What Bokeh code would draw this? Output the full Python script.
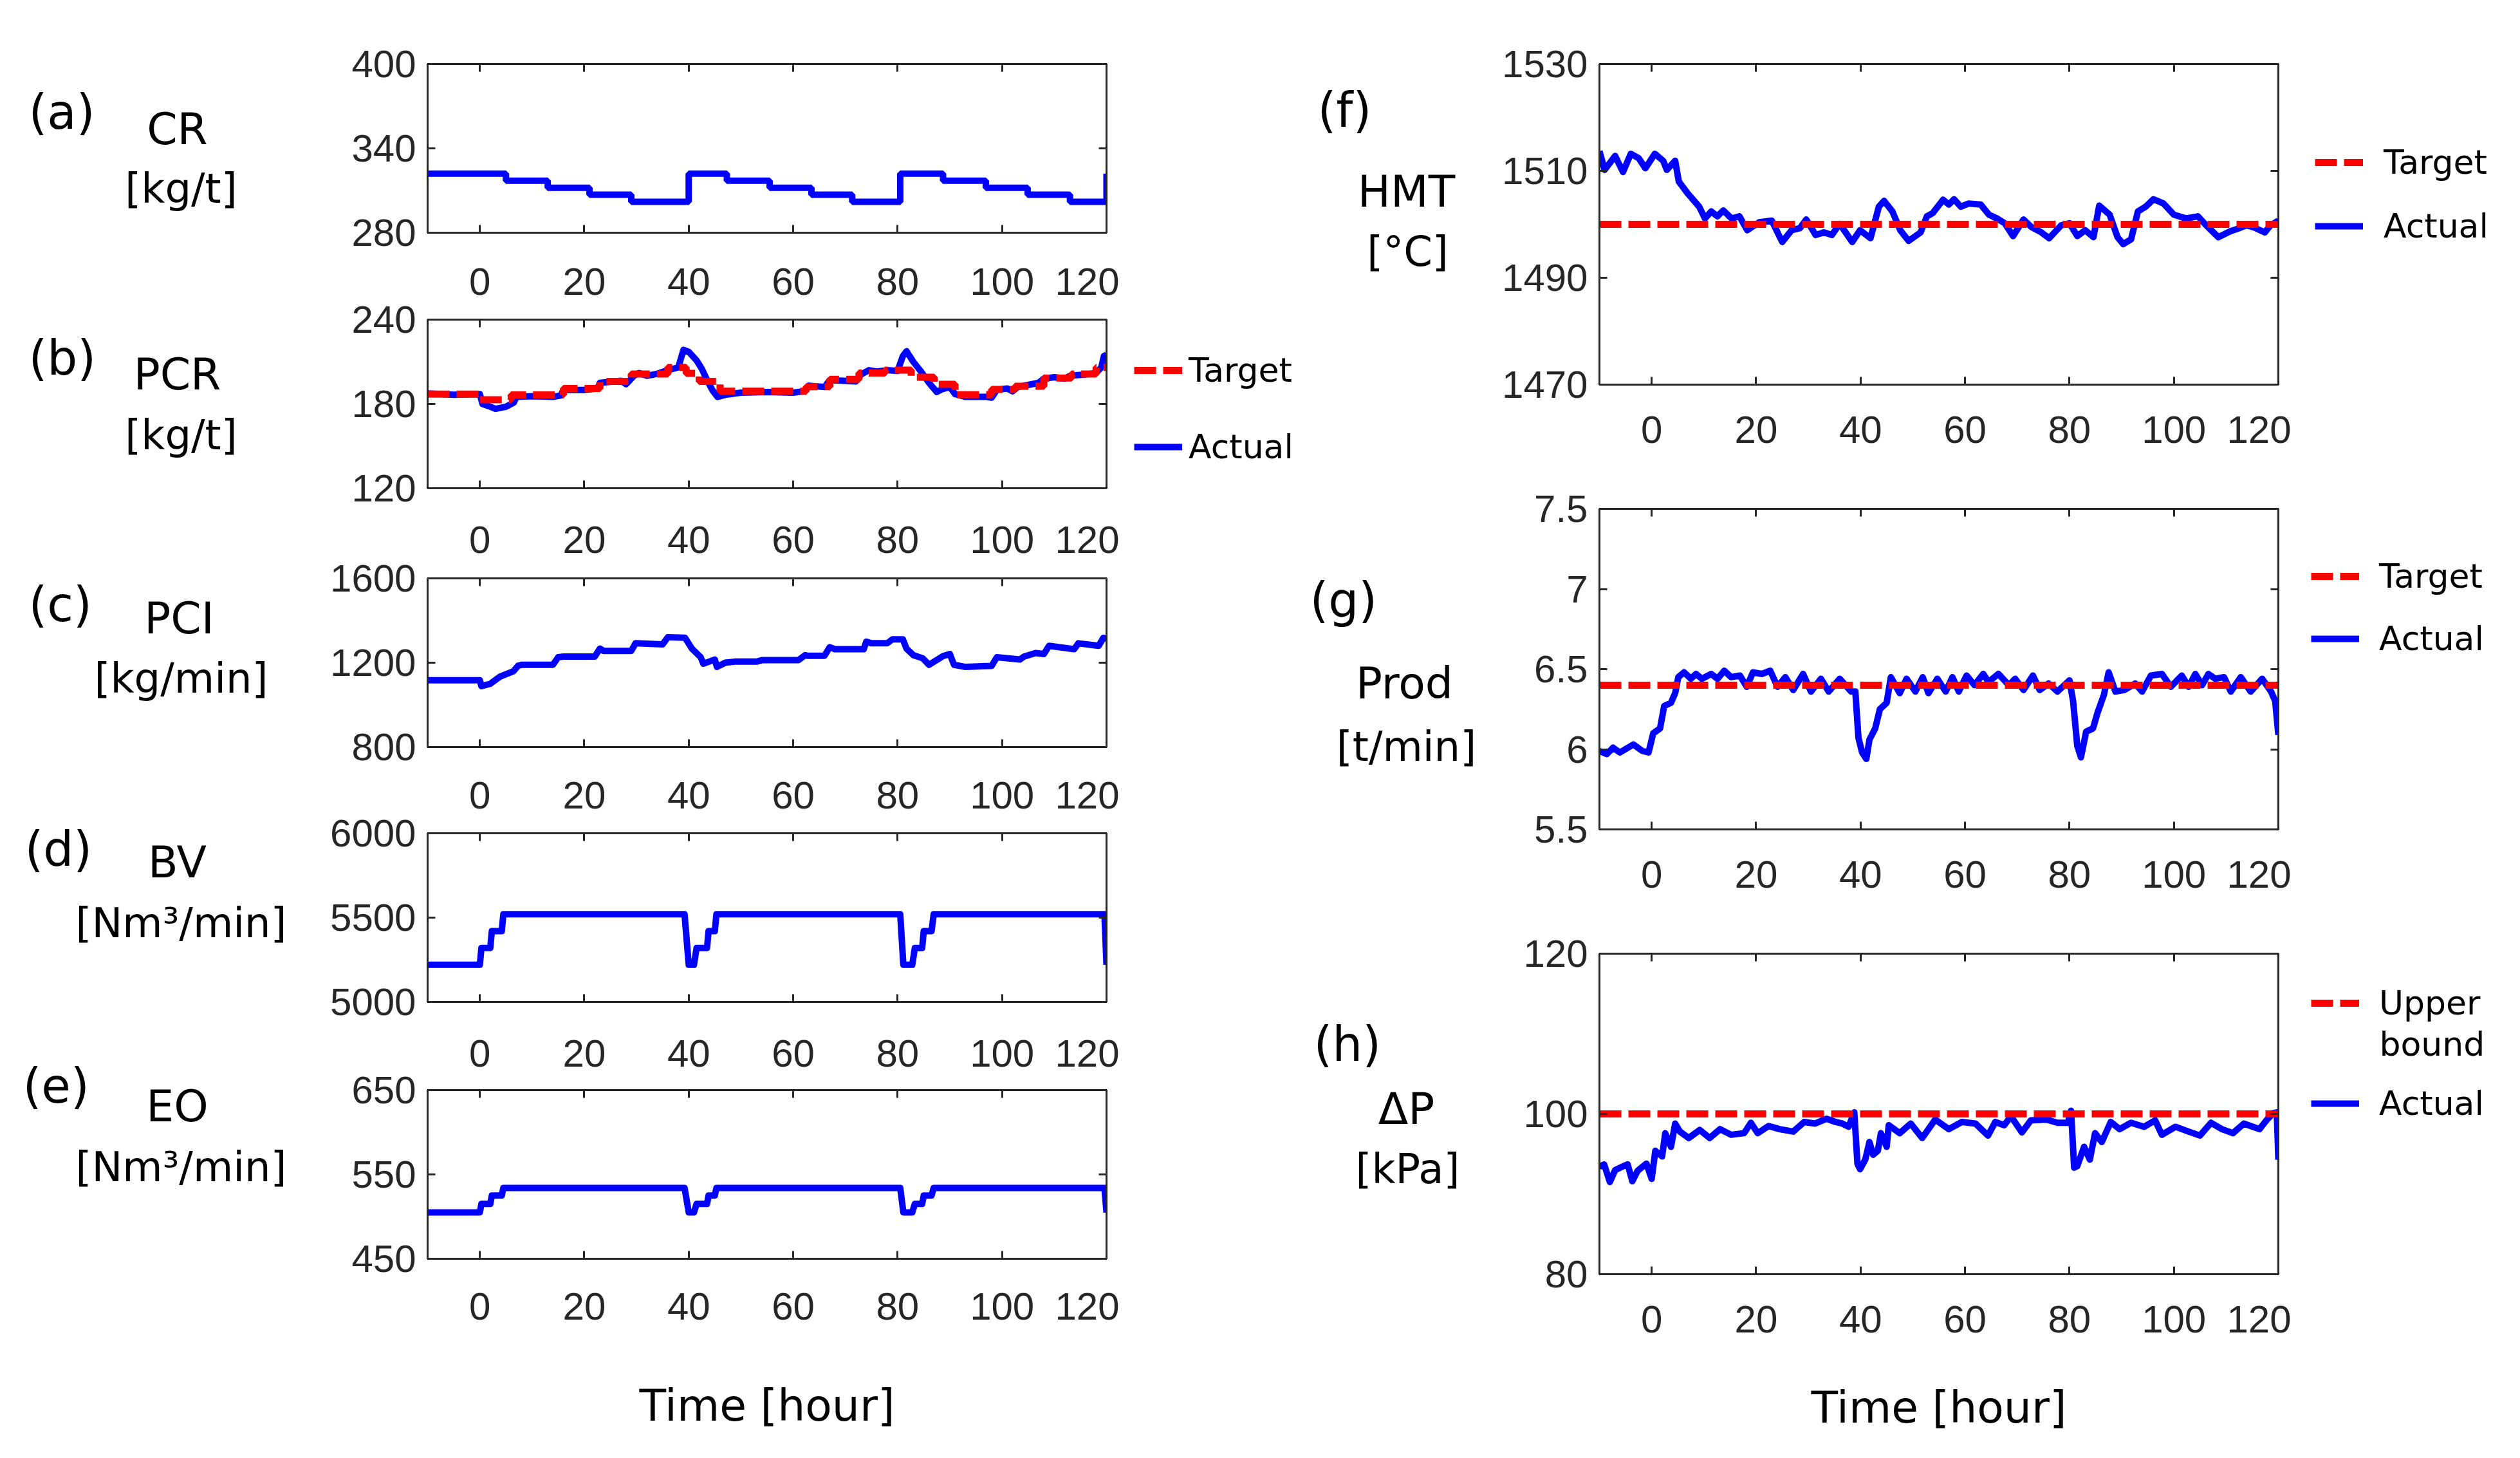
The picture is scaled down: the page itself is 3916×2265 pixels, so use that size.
from bokeh.plotting import figure
from bokeh.layouts import row, column
from bokeh.models import Range1d, LinearAxis, FixedTicker, Label, Legend, LegendItem
from bokeh.embed import file_html
from bokeh.resources import INLINE

TICK_FONT = "Liberation Sans"
TEXT_FONT = "DejaVu Sans"
INK = "#262626"
BLUE = "#0000ff"
RED = "#ff0000"
NAN = float("nan")

x_ticks = [0, 20, 40, 60, 80, 100, 120]

# (a) coke rate, step changes
cr_t = [-10, 5, 13, 21, 29, 40, 47.3, 55.5, 63.5, 71.3, 80.5, 88.7, 96.9, 104.9, 113, 120]
cr_v = [322, 317, 312, 307, 302, 322, 317, 312, 307, 302, 322, 317, 312, 307, 302, 322]

# (b) PCR target (steps) and actual
pcr_target_t = [-10, 0, 6, 16, 23, 29, 36, 39.5, 42, 46, 62.5, 67,
                72.6, 77.6, 82.6, 87, 91, 98, 102.5, 108, 113.3, 118, 120]
pcr_target_v = [187, 183, 186.4, 191, 196, 201.3, 206, 201.7, 196, 189, 192.2, 197.5,
                202, 204, 199, 194, 186.5, 190.3, 192.6, 198.4, 201.3, 206, 206]
pcr_t = [-10, -5, 0, 0.5, 2, 3, 5, 6.5, 7, 10,
         14, 15.5, 16, 20, 22.5, 23, 27, 28, 29.5, 30.5,
         32, 34, 36, 38, 39, 40, 41.5, 42.5, 43.5, 44.5,
         45.5, 47, 50, 55, 60, 62, 63, 66, 67, 72,
         73, 74.5, 76, 78, 80, 81, 81.7, 83, 84.5, 86,
         87.5, 88.5, 90, 91, 93, 97, 98, 99, 101, 102,
         103, 105, 107, 108, 110, 112, 113, 116, 118, 119,
         119.5, 120]
pcr_v = [187.5, 186.5, 187, 180, 178, 176.5, 178, 181, 185, 185.5,
         185, 186, 190, 190, 191, 195, 196.5, 194, 200, 202,
         200, 201.5, 204, 206, 218.5, 217, 211, 205, 197, 190,
         185, 186.5, 188, 188.5, 188, 189, 193, 192, 197, 196,
         201, 204, 203, 204, 203.5, 214, 217.5, 210, 203, 195,
         188.5, 190.5, 192, 187, 185, 185, 184.5, 190, 191, 189,
         192, 193.5, 195, 198, 199, 198, 200, 201, 202, 206,
         214, 215]

# (c) PCI
pci_t = [-10, 0, 0.3, 2, 3.8, 6.4, 7.3, 8, 14, 15,
         16, 22, 23, 23.7, 29, 29.8, 35, 36, 39.3, 40.6,
         42.3, 42.8, 45, 45.4, 47, 48.8, 53, 54, 61, 62.3,
         62.7, 66, 67, 68, 73.5, 74, 75, 78, 79, 81,
         81.7, 83, 84.8, 86, 88.7, 90, 90.8, 93, 98, 99,
         103.4, 104.2, 106.4, 108, 109, 113.8, 114.6, 118.5, 119.4, 120]
pci_v = [1117, 1117, 1089, 1100, 1133, 1159, 1185, 1190, 1190, 1226,
         1229, 1229, 1267, 1256, 1256, 1292, 1287, 1321, 1318, 1267,
         1226, 1195, 1215, 1180, 1200, 1205, 1205, 1212, 1212, 1236,
         1233, 1233, 1274, 1264, 1264, 1300, 1292, 1292, 1311, 1311,
         1267, 1236, 1221, 1190, 1231, 1241, 1190, 1180, 1185, 1226,
         1215, 1229, 1246, 1241, 1280, 1264, 1292, 1280, 1318, 1315]

# (d) blast volume and (e) enriched oxygen share the same switching times
bv_t = [-10, 0, 0.3, 2, 2.3, 4.2, 4.5, 39.2, 40, 41,
        41.5, 43.5, 43.8, 45, 45.3, 80.5, 81.1, 82.8, 83.3, 84.7,
        85, 86.5, 86.9, 119.6, 120]
bv_v = [5220, 5220, 5320, 5320, 5420, 5420, 5520, 5520, 5220, 5220,
        5320, 5320, 5420, 5420, 5520, 5520, 5220, 5220, 5320, 5320,
        5420, 5420, 5520, 5520, 5220]
eo_v = [505, 505, 515, 515, 525, 525, 534, 534, 505, 505,
        515, 515, 525, 525, 534, 534, 505, 505, 515, 515,
        525, 525, 534, 534, 505]

# (f) hot metal temperature
hmt_target = 1500
hmt_t = [-10, -9, -7, -5.5, -4, -2.5, -1.2, 0.6, 2.2, 2.9,
         4.5, 5.2, 6.8, 9.1, 10.2, 11.4, 12.6, 13.7, 15.3, 16.8,
         18.3, 20.6, 23, 25, 26.8, 28.4, 29.6, 31.4, 33, 34.5,
         36, 38.4, 39.9, 41.9, 43.5, 44.5, 46.1, 47.6, 49.2, 51.5,
         52.7, 53.8, 55.8, 56.9, 57.9, 59.2, 60.7, 63, 64.6, 66.1,
         67.6, 69.2, 71.2, 72.7, 74.6, 76.1, 78.4, 80, 81.5, 83,
         84.6, 85.7, 87.7, 89.2, 90.3, 91.8, 93.1, 94.6, 96.1, 98,
         100, 102.3, 104.6, 106.2, 108.5, 110.8, 112.3, 113.9, 115.4, 117.4,
         118.5, 120]
hmt_v = [1513.7, 1510.2, 1512.8, 1509.8, 1513.2, 1512.4, 1510.5, 1513.2, 1511.9, 1510.2,
         1511.9, 1508, 1505.9, 1503.3, 1501.1, 1502.4, 1501.5, 1502.6, 1501.1, 1501.5,
         1498.9, 1500.4, 1500.7, 1496.7, 1498.9, 1499.3, 1500.9, 1498, 1498.5, 1498,
         1500.1, 1496.7, 1498.9, 1497.4, 1503.3, 1504.4, 1502.4, 1498.9, 1496.9, 1498.5,
         1501.5, 1502.1, 1504.6, 1503.7, 1504.7, 1503.3, 1503.9, 1503.7, 1501.8, 1501.1,
         1500.2, 1497.8, 1500.9, 1499.5, 1498.5, 1497.4, 1499.8, 1500.2, 1497.8, 1498.9,
         1497.6, 1503.5, 1501.8, 1497.6, 1496.3, 1497.2, 1502.4, 1503.3, 1504.7, 1503.9,
         1501.8, 1501.1, 1501.5, 1499.8, 1497.6, 1498.7, 1499.2, 1499.8, 1499.4, 1498.5,
         1499.8, 1500.7]

# (g) productivity
prod_target = 6.4
prod_t = [-10, -8.6, -7.4, -6.1, -3.5, -1.8, -0.6, 0.3, 1.6, 2.4,
          3.7, 4.5, 5.1, 6.2, 7.5, 8.5, 9.6, 11.4, 12.6, 13.9,
          15.2, 16.9, 18.2, 19.4, 21.1, 22.7, 24.1, 25.6, 27.1, 29,
          30.5, 32.4, 33.9, 36, 38.2, 39, 39.6, 40.3, 41.1, 41.7,
          42.8, 43.7, 45, 45.8, 47.5, 48.8, 50.5, 51.9, 53, 54.7,
          56.3, 57.6, 58.8, 60.3, 61.8, 63.5, 64.5, 66.4, 68.4, 69.6,
          71.2, 73, 74.3, 76, 77.7, 80, 80.7, 81.5, 82.2, 83.2,
          84.5, 85.4, 86.6, 87.5, 88.8, 90.5, 92.6, 93.9, 95.6, 97.7,
          99.4, 101.5, 102.8, 104.1, 105.4, 106.6, 107.9, 109.6, 110.9, 112.8,
          114.7, 116.9, 118.6, 119.4, 120]
prod_v = [5.99, 5.97, 6.01, 5.98, 6.03, 5.99, 5.98, 6.10, 6.13, 6.27,
          6.29, 6.35, 6.45, 6.48, 6.44, 6.47, 6.44, 6.47, 6.44, 6.49,
          6.45, 6.46, 6.39, 6.48, 6.47, 6.49, 6.39, 6.45, 6.37, 6.47,
          6.36, 6.44, 6.36, 6.44, 6.36, 6.36, 6.07, 5.98, 5.94, 6.06,
          6.13, 6.25, 6.29, 6.45, 6.35, 6.44, 6.36, 6.45, 6.35, 6.44,
          6.36, 6.45, 6.36, 6.46, 6.40, 6.47, 6.42, 6.47, 6.40, 6.44,
          6.37, 6.46, 6.37, 6.41, 6.36, 6.43, 6.30, 6.02, 5.95, 6.11,
          6.13, 6.23, 6.34, 6.48, 6.36, 6.37, 6.41, 6.36, 6.46, 6.47,
          6.39, 6.46, 6.39, 6.47, 6.40, 6.47, 6.44, 6.45, 6.36, 6.45,
          6.36, 6.44, 6.36, 6.30, 6.09]

# (h) pressure drop
dp_upper = 100
dp_t = [-10, -9.1, -8, -7, -5.7, -4.6, -3.7, -2.7, -1, 0,
        0.7, 2, 2.6, 3.7, 4.5, 5.4, 7.1, 9.2, 11.1, 13.1,
        15.2, 17.7, 19, 20.3, 22.4, 24.5, 27.1, 29.2, 31.3, 33.5,
        35.2, 36.5, 37.7, 38.8, 39.4, 39.9, 40.9, 41.7, 42.4, 43.3,
        43.9, 45, 45.4, 47.5, 49.6, 51.8, 54.3, 56.9, 59.4, 62,
        64.4, 65.8, 67.5, 68.8, 70.9, 72.6, 75.6, 77.7, 79.7, 80.3,
        80.9, 81.5, 82.8, 83.9, 84.9, 86.2, 87.9, 89.6, 91.8, 94.3,
        96.4, 97.7, 100.3, 102.8, 105, 107.1, 109.2, 111.3, 113.4, 114.7,
        116.4, 117.7, 119, 119.7, 120]
dp_v = [93.4, 93.7, 91.5, 93, 93.4, 93.7, 91.6, 92.9, 93.8, 91.9,
        95.4, 94.7, 97.6, 95.9, 98.8, 97.8, 97, 98, 97, 98.1,
        97.4, 97.6, 98.9, 97.6, 98.5, 98.1, 97.8, 99, 98.8, 99.4,
        99, 98.8, 98.4, 100.2, 93.8, 93.1, 94.3, 96.5, 94.9, 95.4,
        97.6, 95.9, 98.6, 97.6, 98.8, 97, 99.3, 98.1, 99, 98.8,
        97.3, 99, 98.6, 99.7, 97.7, 99.2, 99.3, 98.9, 98.9, 100.4,
        93.3, 93.5, 95.9, 94.3, 97.6, 96.5, 99, 98.1, 98.9, 98.4,
        99.2, 97.4, 98.4, 97.8, 97.3, 98.9, 98.1, 97.6, 98.8, 98.5,
        98.1, 99.2, 100.1, 100.2, 94.3]

# page geometry (pixels)
FW = 1055                       # plot frame width
L_H, R_H = 2235, 2249           # column heights
LAB_L = (0, 488)                # left label strip x0, width
LEG_L = (1739, 286)             # left legend strip
LAB_R = (2025, 284)
LEG_R = (3560, 340)
LW_ACT, LW_REF, DASH = 10, 11, "34 11"


def style_axis(ax, ticks, standoff=None):
    ax.ticker = FixedTicker(ticks=ticks)
    ax.axis_line_color = INK
    ax.axis_line_width = 3
    ax.major_tick_line_color = INK
    ax.major_tick_line_width = 3
    ax.major_tick_in = 12
    ax.major_tick_out = 0
    ax.minor_tick_line_color = None
    ax.major_label_text_font = TICK_FONT
    if standoff is not None:
        ax.major_label_text_color = INK
        ax.major_label_text_font_size = "60px"
        ax.major_label_standoff = standoff
    else:
        ax.major_label_text_color = None
        ax.major_label_text_font_size = "1px"
        ax.major_label_standoff = 0


def panel(y_lo, y_hi, y_ticks, fh, top, bottom, top_labels=None, bottom_labels=None):
    # x tick labels may sit on the top axis of the next panel down, so that
    # the gap between two stacked frames holds them without clipping
    p = figure(frame_width=FW, frame_height=fh,
               x_range=Range1d(-10, 120), y_range=Range1d(y_lo, y_hi),
               x_axis_location=None, y_axis_location=None,
               min_border_left=176, min_border_right=20,
               min_border_top=top, min_border_bottom=bottom,
               output_backend="svg", toolbar_location=None)
    p.xgrid.visible = False
    p.ygrid.visible = False
    p.outline_line_color = INK
    p.outline_line_width = 3
    xb = LinearAxis()
    style_axis(xb, x_ticks, bottom_labels)
    p.add_layout(xb, "below")
    xt = LinearAxis()
    style_axis(xt, x_ticks, top_labels)
    p.add_layout(xt, "above")
    yl = LinearAxis()
    style_axis(yl, y_ticks, 18)
    p.add_layout(yl, "left")
    yr = LinearAxis()
    style_axis(yr, y_ticks)
    p.add_layout(yr, "right")
    return p, xb


def strip(x0, w, h):
    # blank figure whose data coordinates are page pixels (y downwards)
    s = figure(frame_width=w, frame_height=h, x_range=Range1d(x0, x0 + w),
               y_range=Range1d(h, 0), x_axis_type=None, y_axis_type=None,
               min_border_left=0, min_border_right=0, min_border_top=0,
               min_border_bottom=0, outline_line_color=None,
               output_backend="svg", toolbar_location=None)
    return s


def text(s, t, x, y, align="center", size=64):
    s.add_layout(Label(x=x, y=y, text=t, text_font=TEXT_FONT, text_font_size=f"{size}px",
                       text_color="black", text_align=align, text_baseline="middle"))


def key(s, x0, h_col, color, dash, width, t, gx, cy, standoff):
    r = s.line(x=[NAN], y=[NAN], line_color=color, line_width=width, line_dash=dash)
    h = 80
    lg = Legend(items=[LegendItem(label=t, renderers=[r])],
                location=(gx - x0, h_col - cy - h / 2),
                glyph_width=75, glyph_height=h, label_height=h, label_standoff=standoff,
                padding=0, margin=0, spacing=0, border_line_alpha=0,
                background_fill_alpha=0, label_text_font=TEXT_FONT,
                label_text_font_size="52px", label_text_color="black")
    s.add_layout(lg)


def time_label(ax, standoff):
    ax.axis_label = "Time [hour]"
    ax.axis_label_text_font = TEXT_FONT
    ax.axis_label_text_font_size = "68px"
    ax.axis_label_text_font_style = "normal"
    ax.axis_label_text_color = "black"
    ax.axis_label_standoff = standoff


# left column plots
pa, _ = panel(280, 400, [280, 340, 400], 262, 99, 36)
pa.step(cr_t, cr_v, mode="after", line_color=BLUE, line_width=LW_ACT)

pb, _ = panel(120, 240, [120, 180, 240], 262, 99, 36, top_labels=39)
pb.line(pcr_t, pcr_v, line_color=BLUE, line_width=LW_ACT, line_join="round")
pb.step(pcr_target_t, pcr_target_v, mode="after", line_color=RED,
        line_width=LW_REF, line_dash=DASH)

pc, _ = panel(800, 1600, [800, 1200, 1600], 262, 104, 36, top_labels=40)
pc.line(pci_t, pci_v, line_color=BLUE, line_width=LW_ACT, line_join="round")

pd, _ = panel(5000, 6000, [5000, 5500, 6000], 262, 98, 36, top_labels=39)
pd.line(bv_t, bv_v, line_color=BLUE, line_width=LW_ACT, line_join="round")

pe, xe = panel(450, 650, [450, 550, 650], 262, 101, 280, top_labels=37, bottom_labels=53)
pe.line(bv_t, eo_v, line_color=BLUE, line_width=LW_ACT, line_join="round")
time_label(xe, 91)

# right column plots
pf, _ = panel(1470, 1530, [1470, 1490, 1510, 1530], 498, 99, 120, bottom_labels=49)
pf.line(hmt_t, hmt_v, line_color=BLUE, line_width=LW_ACT, line_join="round")
pf.line([-10, 120], [hmt_target, hmt_target], line_color=RED, line_width=LW_REF, line_dash=DASH)

pg, _ = panel(5.5, 7.5, [5.5, 6, 6.5, 7, 7.5], 498, 73, 120, bottom_labels=49)
pg.line(prod_t, prod_v, line_color=BLUE, line_width=LW_ACT, line_join="round")
pg.line([-10, 120], [prod_target, prod_target], line_color=RED, line_width=LW_REF, line_dash=DASH)

ph, xh = panel(80, 120, [80, 100, 120], 498, 73, 270, bottom_labels=49)
ph.line(dp_t, dp_v, line_color=BLUE, line_width=LW_ACT, line_join="round")
ph.line([-10, 120], [dp_upper, dp_upper], line_color=RED, line_width=LW_REF, line_dash=DASH)
time_label(xh, 74)

# panel letters, variable names and units left of each panel
lab_l = strip(LAB_L[0], LAB_L[1], L_H)
for t, x, y, a, sz in [("(a)", 44, 173, "left", 74), ("CR", 275, 200, "center", 68), ("[kg/t]", 281, 292, "center", 64),
                       ("(b)", 44, 555, "left", 74), ("PCR", 275, 581, "center", 68), ("[kg/t]", 281, 675, "center", 64),
                       ("(c)", 44, 938, "left", 74), ("PCI", 278, 960, "center", 68), ("[kg/min]", 281, 1053, "center", 64),
                       ("(d)", 38, 1318, "left", 74), ("BV", 275, 1339, "center", 68), ("[Nm³/min]", 281, 1433, "center", 64),
                       ("(e)", 35, 1686, "left", 74), ("EO", 275, 1718, "center", 68), ("[Nm³/min]", 281, 1812, "center", 64)]:
    text(lab_l, t, x, y, a, sz)

lab_r = strip(LAB_R[0], LAB_R[1], R_H)
for t, x, y, a, sz in [("(f)", 2047, 170, "left", 74), ("HMT", 2185, 297, "center", 68), ("[°C]", 2187, 390, "center", 64),
                       ("(g)", 2035, 931, "left", 74), ("Prod", 2182, 1061, "center", 68), ("[t/min]", 2185, 1159, "center", 64),
                       ("(h)", 2041, 1621, "left", 74), ("ΔP", 2185, 1722, "center", 68), ("[kPa]", 2187, 1815, "center", 64)]:
    text(lab_r, t, x, y, a, sz)

# legends
leg_l = strip(LEG_L[0], LEG_L[1], L_H)
key(leg_l, LEG_L[0], L_H, RED, DASH, LW_REF, "Target", 1762, 575, 10)
key(leg_l, LEG_L[0], L_H, BLUE, "solid", LW_ACT, "Actual", 1762, 694, 10)

leg_r = strip(LEG_R[0], LEG_R[1], R_H)
key(leg_r, LEG_R[0], R_H, RED, DASH, LW_REF, "Target", 3597, 252, 32)
key(leg_r, LEG_R[0], R_H, BLUE, "solid", LW_ACT, "Actual", 3597, 351, 32)
key(leg_r, LEG_R[0], R_H, RED, DASH, LW_REF, "Target", 3591, 895, 31)
key(leg_r, LEG_R[0], R_H, BLUE, "solid", LW_ACT, "Actual", 3591, 992, 31)
key(leg_r, LEG_R[0], R_H, RED, DASH, LW_REF, "Upper", 3591, 1558, 31)
text(leg_r, "bound", 3697, 1621, "left", 52)
key(leg_r, LEG_R[0], R_H, BLUE, "solid", LW_ACT, "Actual", 3591, 1714, 31)

layout = row(lab_l, column(pa, pb, pc, pd, pe), leg_l,
             lab_r, column(pf, pg, ph), leg_r)
open("out.html", "w").write(file_html(layout, INLINE))
